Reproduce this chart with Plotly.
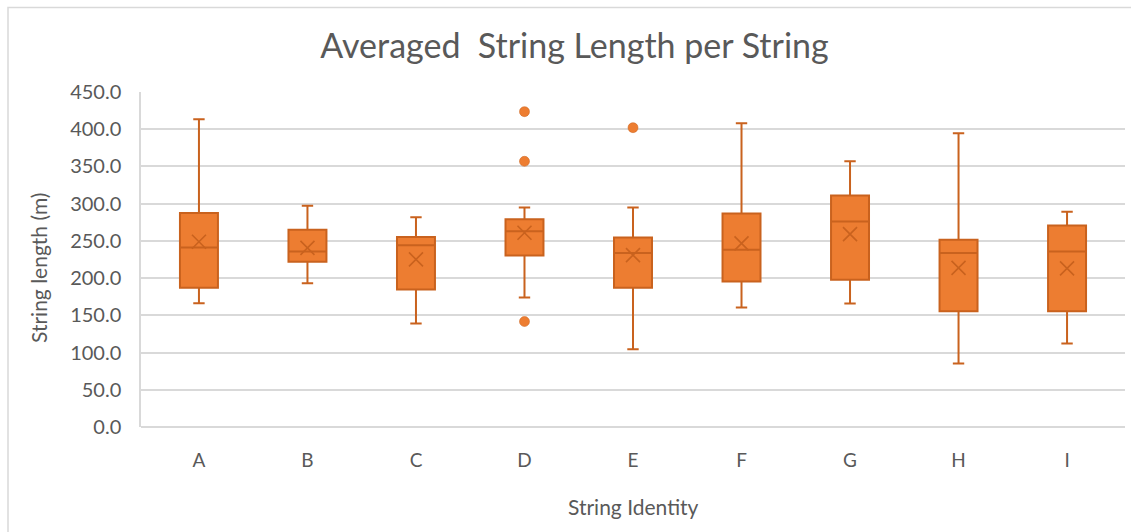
import plotly.graph_objects as go

# Box statistics per string (metres)
strings = ["A", "B", "C", "D", "E", "F", "G", "H", "I"]
upper_whisker = [413.3, 297.2, 281.6, 295.0, 295.0, 408.0, 356.9, 394.5, 289.1]
q3_values = [287.3, 264.9, 255.1, 278.9, 254.7, 286.9, 311.1, 251.5, 270.8]
median_values = [241.2, 235.8, 244.3, 263.1, 233.6, 238.0, 276.2, 233.6, 235.8]
q1_values = [186.9, 221.9, 184.7, 230.5, 186.9, 195.5, 197.7, 155.6, 155.6]
lower_whisker = [166.3, 193.2, 139.0, 174.0, 104.5, 160.5, 165.9, 85.2, 112.1]
mean_values = [248.8, 240.7, 225.1, 260.9, 230.9, 246.6, 259.1, 213.8, 213.0]

# Points beyond the whiskers
outlier_strings = ["D", "D", "D", "E"]
outlier_values = [423.6, 356.9, 141.7, 402.1]

FONT = "Lato"
TEXT = "#595959"
GRID = "#D9D9D9"
FILL = "#ED7D31"
EDGE = "#C9621E"

fig = go.Figure()

fig.add_trace(go.Box(
    x=strings,
    q1=q1_values,
    median=median_values,
    q3=q3_values,
    lowerfence=lower_whisker,
    upperfence=upper_whisker,
    fillcolor=FILL,
    line=dict(color=EDGE, width=2),
    whiskerwidth=0.3,
    boxpoints=False,
    showlegend=False,
    hoverinfo="skip",
))

fig.add_trace(go.Scatter(
    x=strings,
    y=mean_values,
    mode="markers",
    marker=dict(symbol="x-thin-open", size=14, color=EDGE,
                line=dict(color=EDGE, width=1.6)),
    showlegend=False,
    hoverinfo="skip",
))

fig.add_trace(go.Scatter(
    x=outlier_strings,
    y=outlier_values,
    mode="markers",
    marker=dict(symbol="circle", size=10, color=FILL,
                line=dict(color=EDGE, width=0.5)),
    showlegend=False,
    hoverinfo="skip",
))

fig.update_layout(
    width=1131,
    height=532,
    margin=dict(l=141, r=6, t=92, b=105),
    paper_bgcolor="white",
    plot_bgcolor="white",
    boxgap=0.5,
    font=dict(family=FONT, color=TEXT),
    title=dict(
        text="Averaged  String Length per String",
        x=0.508, xanchor="center", xref="container",
        y=1 - 46 / 532, yanchor="middle", yref="container",
        font=dict(family=FONT, size=34, color=TEXT),
    ),
    xaxis=dict(
        type="category",
        categoryorder="array",
        categoryarray=strings,
        showgrid=False,
        showline=False,
        zeroline=False,
        ticks="",
        ticklabelstandoff=20,
        tickfont=dict(family=FONT, size=19, color=TEXT),
    ),
    yaxis=dict(
        range=[0, 450],
        dtick=50,
        tickformat=".1f",
        showgrid=True,
        gridcolor=GRID,
        gridwidth=1.5,
        showline=True,
        linecolor=GRID,
        linewidth=1.5,
        zeroline=True,
        zerolinecolor=GRID,
        zerolinewidth=1.5,
        ticks="",
        ticklabelstandoff=14,
        tickfont=dict(family=FONT, size=20, color=TEXT),
    ),
    annotations=[
        dict(text="String length (m)", textangle=-90,
             xref="paper", yref="paper",
             x=(38 - 141) / 984, y=(427 - 268) / 335,
             xanchor="center", yanchor="middle", showarrow=False,
             font=dict(family=FONT, size=21, color=TEXT)),
        dict(text="String Identity",
             xref="paper", yref="paper",
             x=0.5, y=(427 - 506) / 335,
             xanchor="center", yanchor="middle", showarrow=False,
             font=dict(family=FONT, size=21, color=TEXT)),
    ],
    shapes=[
        dict(type="rect", xref="paper", yref="paper",
             x0=(8 - 141) / 984, x1=(1145 - 141) / 984,
             y0=(427 - 545) / 335, y1=(427 - 7.5) / 335,
             line=dict(color=GRID, width=1.5), fillcolor="rgba(0,0,0,0)",
             layer="below"),
    ],
)

fig.write_html("out.html")
